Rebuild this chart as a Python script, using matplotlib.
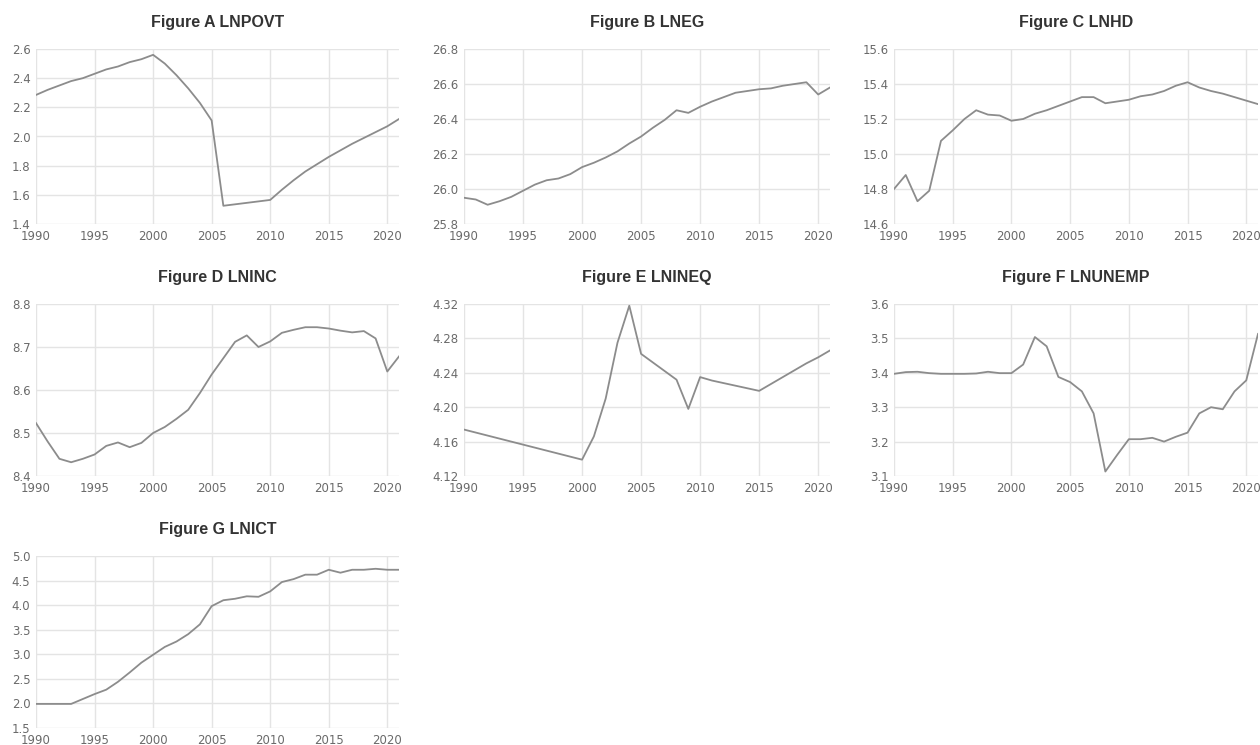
import matplotlib
matplotlib.use("Agg")
import matplotlib.pyplot as plt
from matplotlib.ticker import MultipleLocator, FormatStrFormatter

years = list(range(1990, 2022))

lnpovt = [2.285, 2.32, 2.35, 2.38, 2.40, 2.43, 2.46, 2.48, 2.51, 2.53,
          2.56, 2.50, 2.42, 2.33, 2.23, 2.11, 1.525, 1.535, 1.545, 1.555,
          1.565, 1.635, 1.70, 1.76, 1.81, 1.86, 1.905, 1.95, 1.99, 2.03,
          2.07, 2.12]

lneg = [25.95, 25.94, 25.91, 25.93, 25.955, 25.99, 26.025, 26.05, 26.06, 26.085,
        26.125, 26.15, 26.18, 26.215, 26.26, 26.30, 26.35, 26.395, 26.45, 26.435,
        26.47, 26.50, 26.525, 26.55, 26.56, 26.57, 26.575, 26.59, 26.60, 26.61,
        26.54, 26.58]

lnhd = [14.80, 14.88, 14.73, 14.79, 15.075, 15.135, 15.20, 15.25, 15.225, 15.22,
        15.19, 15.20, 15.23, 15.25, 15.275, 15.30, 15.325, 15.325, 15.29, 15.30,
        15.31, 15.33, 15.34, 15.36, 15.39, 15.41, 15.38, 15.36, 15.345, 15.325,
        15.305, 15.285]

lninc = [8.523, 8.48, 8.44, 8.432, 8.44, 8.45, 8.47, 8.478, 8.467, 8.477,
         8.50, 8.514, 8.533, 8.554, 8.593, 8.636, 8.674, 8.712, 8.727, 8.70,
         8.713, 8.733, 8.74, 8.746, 8.746, 8.743, 8.738, 8.734, 8.737, 8.72,
         8.643, 8.678]

lnineq = [4.174, 4.1705, 4.167, 4.1635, 4.160, 4.1565, 4.153, 4.1495, 4.146, 4.1425,
          4.139, 4.166, 4.21, 4.275, 4.318, 4.262, 4.252, 4.242, 4.232, 4.198,
          4.235, 4.231, 4.228, 4.225, 4.222, 4.219, 4.227, 4.235, 4.243, 4.251,
          4.258, 4.266]

lnunemp = [3.397, 3.402, 3.403, 3.399, 3.397, 3.397, 3.397, 3.398, 3.403, 3.399,
           3.399, 3.424, 3.504, 3.477, 3.388, 3.373, 3.346, 3.282, 3.113, 3.161,
           3.207, 3.207, 3.211, 3.20, 3.214, 3.226, 3.282, 3.30, 3.294, 3.346,
           3.378, 3.513]

lnict = [1.99, 1.99, 1.99, 1.99, 2.09, 2.19, 2.28, 2.44, 2.63, 2.83,
         2.99, 3.15, 3.26, 3.41, 3.61, 3.98, 4.10, 4.13, 4.18, 4.17,
         4.28, 4.47, 4.53, 4.62, 4.62, 4.72, 4.66, 4.72, 4.72, 4.74,
         4.72, 4.72]

titles = ["Figure A LNPOVT", "Figure B LNEG", "Figure C LNHD", "Figure D LNINC",
          "Figure E LNINEQ", "Figure F LNUNEMP", "Figure G LNICT"]
series = [lnpovt, lneg, lnhd, lninc, lnineq, lnunemp, lnict]
# (ymin, ymax, step, format)
y_scales = [(1.4, 2.6, 0.2, "%.1f"), (25.8, 26.8, 0.2, "%.1f"),
            (14.6, 15.6, 0.2, "%.1f"), (8.4, 8.8, 0.1, "%.1f"),
            (4.12, 4.32, 0.04, "%.2f"), (3.1, 3.6, 0.1, "%.1f"),
            (1.5, 5.0, 0.5, "%.1f")]

W, H = 1260, 745
col_left = [36, 464, 894]
col_width = [363, 366, 364]
row_top = [49, 304, 556]
row_bottom = [224, 476, 728]

fig = plt.figure(figsize=(W / 100, H / 100), dpi=100)
fig.patch.set_facecolor("white")

for i, (title, vals, (y0, y1, step, fmt)) in enumerate(zip(titles, series, y_scales)):
    r, c = divmod(i, 3)
    ax = fig.add_axes([col_left[c] / W, 1 - row_bottom[r] / H,
                       col_width[c] / W, (row_bottom[r] - row_top[r]) / H])
    ax.plot(years, vals, color="#8c8c8c", lw=1.3, solid_joinstyle="round", zorder=3)
    ax.set_xlim(1990, 2021)
    ax.set_ylim(y0, y1)
    ax.xaxis.set_major_locator(MultipleLocator(5))
    ax.yaxis.set_major_locator(MultipleLocator(step))
    ax.yaxis.set_major_formatter(FormatStrFormatter(fmt))
    ax.grid(True, color="#e4e4e4", lw=1.0, zorder=0)
    fig.canvas.draw()
    # no grid line on the outer edges
    ygl = ax.yaxis.get_gridlines()
    ygl[0].set_visible(False)
    ygl[-1].set_visible(False)
    ax.xaxis.get_gridlines()[0].set_visible(False)
    for s in ax.spines.values():
        s.set_visible(False)
    ax.tick_params(axis="both", length=0, labelsize=8.5, labelcolor="#6a6a6a")
    ax.tick_params(axis="y", pad=4)
    ax.tick_params(axis="x", pad=4)
    ax.set_title(title, fontsize=11.5, fontweight="bold", color="#333333",
                 family="Liberation Sans", pad=16)

fig.savefig("out.png", dpi=100, facecolor="white")
